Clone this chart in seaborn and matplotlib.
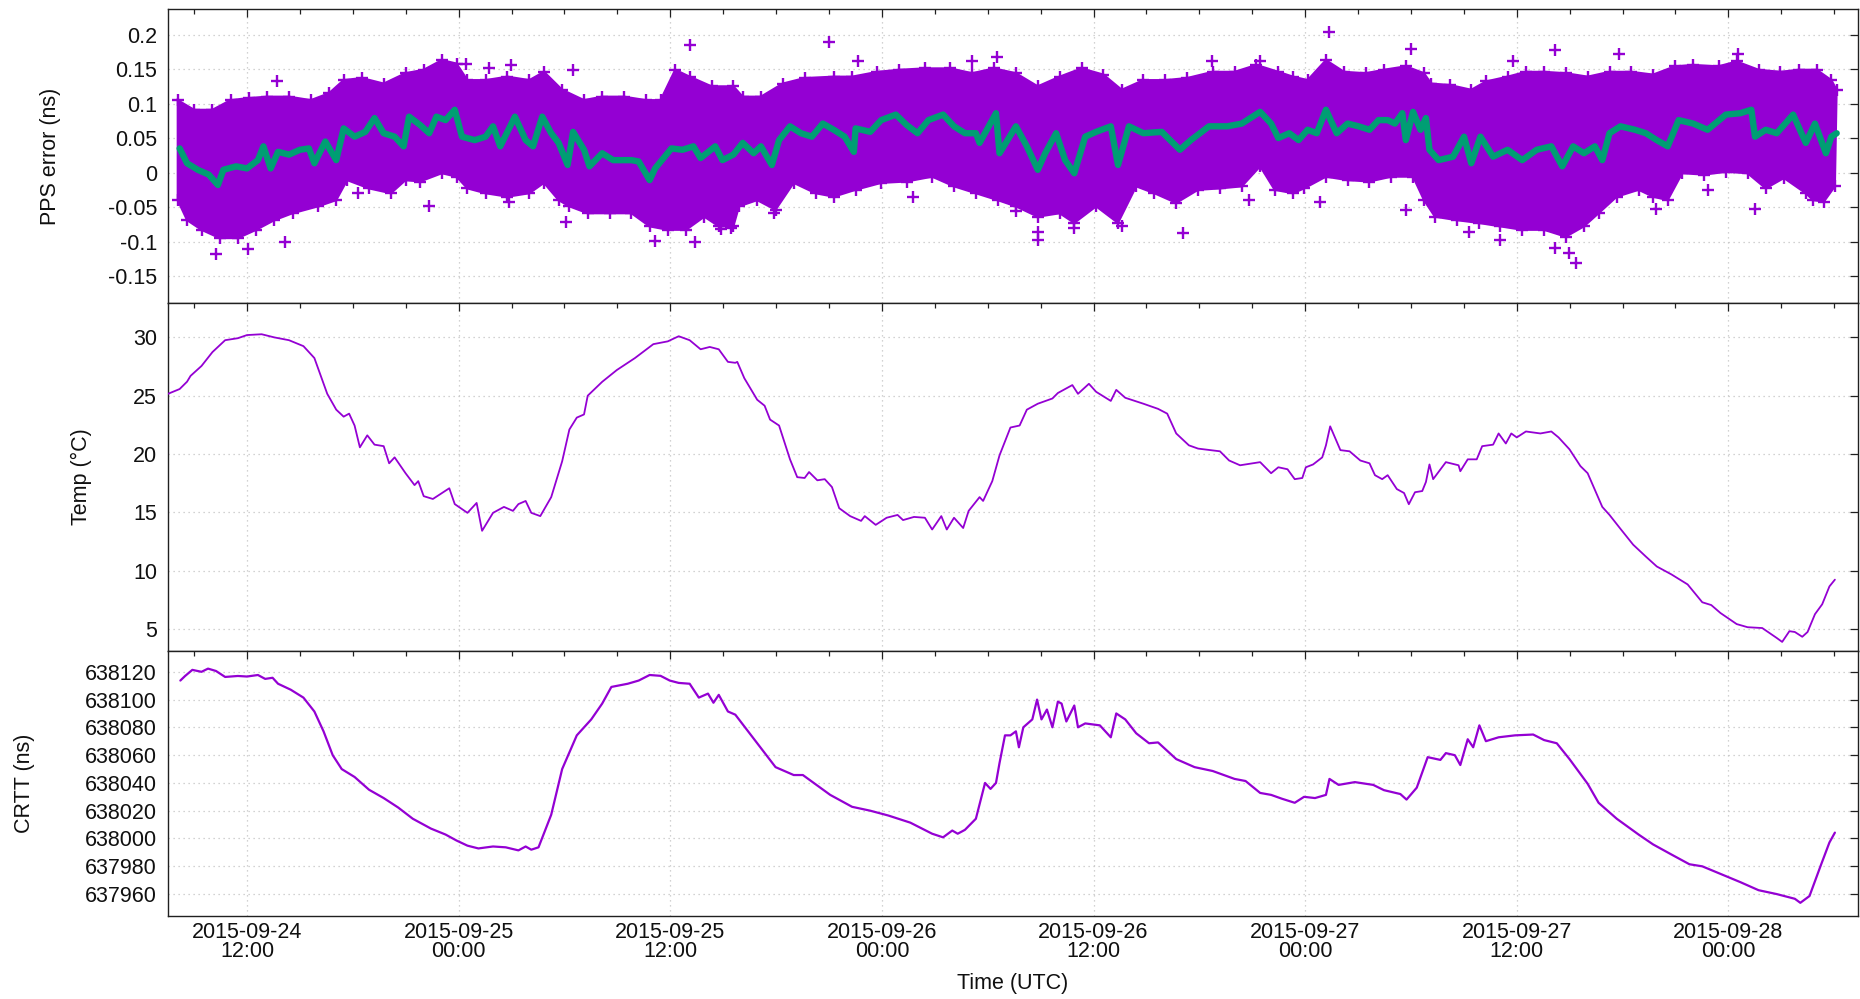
import numpy as np
import pandas as pd
import matplotlib
matplotlib.use("Agg")
import matplotlib.pyplot as plt
import matplotlib.dates as mdates
from matplotlib.ticker import FixedLocator, FuncFormatter, NullLocator
import seaborn as sns

# ---------------- data (hours since 2015-09-24 00:00 UTC) ----------------
T0 = pd.Timestamp("2015-09-24 00:00")

# PPS error: running mean (green)
pps_mean_h = [8.18, 8.6, 9.21, 9.83, 10.35, 10.66, 11.38, 12.0, 12.62, 12.93, 13.34, 13.76, 14.38, 15.0,
              15.51, 15.82, 16.44, 17.06, 17.48, 18.1, 18.71, 19.23, 19.75, 20.37, 20.88, 21.19, 21.81,
              22.33, 22.74, 23.26, 23.78, 24.19, 24.91, 25.53, 25.95, 26.36, 27.19, 27.8, 28.22, 28.74,
              29.25, 29.67, 30.18, 30.49, 31.11, 31.42, 32.14, 32.76, 33.8, 34.21, 34.83, 35.14, 36.07,
              36.69, 37.31, 37.72, 38.55, 38.96, 39.58,
              40.11, 40.73, 41.14, 41.76, 42.17, 42.79, 43.41, 44.03, 44.65, 45.27, 45.89, 46.41, 46.51,
              47.34, 47.96, 48.79, 49.4, 50.02, 50.64, 51.47, 52.09, 52.71, 53.33, 53.54, 54.47, 54.67,
              55.6, 56.22, 56.84, 57.26, 57.88, 58.39, 58.91, 59.53, 60.15, 60.98, 61.39, 62.01, 62.83,
              63.87, 64.9, 65.52, 66.55, 67.59, 68.41, 69.45, 70.07, 70.48, 71.1,
              71.63, 72.14, 72.66, 73.18, 73.79, 74.41, 75.03, 75.65, 76.16, 76.68, 77.09, 77.51, 77.71,
              78.12, 78.54, 78.85, 79.05, 79.57, 80.39, 81.01, 81.42, 81.94, 82.66, 83.48, 84.31, 85.13,
              85.96, 86.58, 87.2, 87.81, 88.43, 88.85, 89.26, 89.88, 90.7, 91.32, 91.94, 92.56, 93.18,
              94.0, 94.82, 95.86, 96.68, 97.3, 97.51, 98.12, 98.74, 99.67, 100.39, 100.91, 101.53,
              101.84, 102.14]
pps_mean_ns = [0.035, 0.0135, 0.004, -0.003, -0.018, 0.004, 0.009, 0.006, 0.018, 0.038, 0.006, 0.030,
               0.026, 0.033, 0.035, 0.0135, 0.045, 0.018, 0.064, 0.052, 0.059, 0.079, 0.057, 0.052,
               0.038, 0.081, 0.069, 0.057, 0.081, 0.076, 0.091, 0.052, 0.047, 0.052, 0.067, 0.038,
               0.081, 0.047, 0.038, 0.081, 0.057, 0.043, 0.011, 0.059, 0.033, 0.009, 0.028, 0.018,
               0.018, 0.016, -0.011, 0.006, 0.035, 0.033, 0.038, 0.021, 0.038, 0.018, 0.026,
               0.043, 0.028, 0.038, 0.011, 0.047, 0.067, 0.057, 0.052, 0.071, 0.062, 0.052, 0.030,
               0.064, 0.059, 0.076, 0.084, 0.069, 0.057, 0.076, 0.084, 0.067, 0.057, 0.057, 0.043,
               0.086, 0.028, 0.067, 0.038, 0.004, 0.028, 0.057, 0.018, -0.001, 0.052, 0.059, 0.067,
               0.011, 0.067, 0.057, 0.059, 0.033, 0.047, 0.067, 0.067, 0.071, 0.088, 0.071, 0.050,
               0.057,
               0.047, 0.062, 0.057, 0.091, 0.057, 0.071, 0.067, 0.062, 0.076, 0.076, 0.071, 0.086,
               0.047, 0.088, 0.062, 0.079, 0.033, 0.018, 0.023, 0.052, 0.0135, 0.052, 0.023, 0.033,
               0.018, 0.033, 0.038, 0.009, 0.038, 0.028, 0.038, 0.018, 0.057, 0.067, 0.062, 0.057,
               0.047, 0.038, 0.076, 0.071, 0.062, 0.084, 0.086, 0.091, 0.052, 0.062, 0.057, 0.084,
               0.043, 0.071, 0.028, 0.052, 0.057]

# PPS error: upper / lower edge of the dense point cloud
band_hi_h = [8.07, 9.0, 10.04, 11.07, 12.1, 13.14, 14.38, 15.62, 16.65, 17.48, 18.51, 19.75, 20.99,
             22.02, 23.05, 23.88, 24.5, 25.53, 26.77, 28.01, 28.84, 29.87, 31.11, 32.14, 33.38, 34.62,
             35.45, 36.28, 37.1, 38.34, 39.58, 40.11, 41.14, 42.38, 43.62, 45.27, 46.31, 47.75, 48.99,
             50.44, 51.88, 53.12, 54.36, 55.6, 56.84, 58.08, 59.32, 60.56, 61.6, 62.83, 64.07, 65.31,
             66.76, 68.0, 69.24, 70.48, 71.31, 72.14, 73.18, 74.21, 75.44, 76.47, 77.71, 78.74, 79.15,
             80.19, 81.42, 82.25, 83.48, 84.52, 85.55, 86.78, 88.02, 89.26, 90.49, 91.73, 92.97, 94.0,
             95.44, 96.47, 97.71, 98.95, 99.98, 101.01, 101.84, 102.14]
band_hi_ns = [0.105, 0.091, 0.091, 0.105, 0.108, 0.110, 0.110, 0.105, 0.115, 0.134, 0.137, 0.129,
              0.144, 0.149, 0.163, 0.158, 0.134, 0.134, 0.139, 0.134, 0.146, 0.120, 0.105, 0.110,
              0.110, 0.105, 0.105, 0.149, 0.139, 0.125, 0.125, 0.110, 0.110, 0.129, 0.137, 0.139,
              0.139, 0.146, 0.149, 0.151, 0.151, 0.144, 0.151, 0.144, 0.125, 0.139, 0.151, 0.142,
              0.120, 0.134, 0.134, 0.137, 0.146, 0.146, 0.156, 0.146, 0.139, 0.134, 0.163, 0.146,
              0.144, 0.149, 0.154, 0.144, 0.129, 0.127, 0.120, 0.132, 0.139, 0.146, 0.146, 0.144,
              0.139, 0.146, 0.146, 0.142, 0.154, 0.156, 0.154, 0.161, 0.149, 0.146, 0.149, 0.149,
              0.134, 0.120]
band_lo_h = [8.07, 8.6, 9.42, 10.45, 11.48, 12.52, 13.55, 14.58, 16.03, 17.06, 17.68, 18.92, 20.16,
             20.99, 21.81, 23.05, 23.88, 24.5, 25.53, 26.77, 28.01, 28.84, 29.67, 30.28, 31.32, 32.56,
             33.8, 34.83, 35.86, 36.9, 37.93, 38.76, 39.58, 39.9, 40.93, 41.97, 43.0, 44.24, 45.27,
             46.51, 47.96, 49.4, 50.85, 52.09, 53.33, 54.57, 55.6, 56.84, 58.08, 58.91, 60.15, 61.39,
             62.42, 63.45, 64.69, 65.93, 67.17, 68.41, 69.45, 70.27, 71.31, 71.94, 73.18, 74.41,
             75.65, 76.89, 78.12, 78.74, 79.36, 80.6, 81.84, 83.07, 84.31, 85.55, 86.78, 87.81,
             88.64, 89.67, 90.91, 91.73, 92.56, 93.38, 94.62, 95.86, 97.09, 98.12, 99.15, 100.39,
             100.8, 101.42, 102.04]
band_lo_ns = [-0.040, -0.069, -0.083, -0.095, -0.095, -0.083, -0.069, -0.059, -0.049, -0.040, -0.011,
              -0.023, -0.030, -0.011, -0.013, -0.001, -0.006, -0.023, -0.030, -0.035, -0.030, -0.015,
              -0.040, -0.049, -0.059, -0.059, -0.059, -0.078, -0.083, -0.083, -0.064, -0.078, -0.078,
              -0.049, -0.040, -0.054, -0.015, -0.030, -0.035, -0.025, -0.015, -0.013, -0.006, -0.020,
              -0.030, -0.040, -0.049, -0.064, -0.059, -0.073, -0.049, -0.073, -0.020, -0.030, -0.044,
              -0.025, -0.023, -0.020, 0.009, -0.025, -0.030, -0.023, -0.006, -0.011, -0.013, -0.006,
              -0.006, -0.040, -0.064, -0.069, -0.073, -0.078, -0.083, -0.083, -0.093, -0.078, -0.059,
              -0.035, -0.025, -0.035, -0.040, -0.001, -0.003, 0.001, -0.001, -0.023, -0.008, -0.030,
              -0.040, -0.042, -0.020]

# PPS error: isolated points outside the cloud
out_h = [10.24, 12.06, 13.71, 14.17, 18.3, 22.33, 24.4, 25.74, 26.88, 26.98, 30.08, 30.49, 35.14,
         37.1, 37.41, 38.86, 39.45, 41.86, 45.0, 46.62, 49.78, 53.12, 54.53, 55.6, 56.88, 56.88,
         58.87, 61.6, 65.07, 66.72, 68.83, 69.45, 72.82, 73.38, 77.71, 78.02, 81.32, 83.07, 83.79,
         86.16, 86.16, 86.99, 87.36, 89.77, 91.88, 94.82, 96.52, 97.51]
out_ns = [-0.118, -0.111, 0.132, -0.101, -0.030, -0.049, 0.158, 0.151, -0.042, 0.156, -0.072, 0.148,
          -0.099, 0.185, -0.100, -0.082, -0.081, -0.059, 0.189, 0.162, -0.035, 0.161, 0.167, -0.055,
          -0.086, -0.097, -0.081, -0.078, -0.087, 0.162, -0.040, 0.161, -0.043, 0.204, -0.054, 0.179,
          -0.086, -0.097, 0.161, 0.178, -0.110, -0.117, -0.131, 0.172, -0.053, -0.025, 0.172, -0.053]

# Temperature
temp_h = [7.52, 8.18, 8.6, 8.8, 9.42, 10.04, 10.76, 11.48, 12.0, 12.83, 13.55, 14.38, 15.2, 15.82,
          16.55, 17.06, 17.48, 17.79, 18.1, 18.4, 18.82, 19.23, 19.75, 20.06, 20.37, 20.99, 21.5,
          21.71, 22.02, 22.54, 23.05, 23.47, 23.78, 24.5, 25.02, 25.33, 25.95, 26.57, 27.08, 27.39,
          27.8, 28.12, 28.63, 29.25, 29.87, 30.28, 30.7, 31.11, 31.32, 32.14, 32.97, 34.0, 35.04,
          35.86, 36.48, 37.1, 37.72, 38.24, 38.75, 39.27, 39.69, 39.8, 40.2, 40.93, 41.35, 41.66,
          42.17, 42.79, 43.2, 43.62, 43.87, 44.34, 44.76, 45.17, 45.58, 46.2, 46.82, 47.03, 47.65,
          48.27, 48.89, 49.2, 49.82, 50.44, 50.85, 51.37, 51.68, 52.09, 52.61, 52.92, 53.54, 53.74,
          54.26, 54.67, 55.29, 55.81, 56.22, 56.84, 57.67, 57.98, 58.8, 59.12, 59.74, 60.15, 60.98,
          61.29, 61.8, 62.83, 63.66, 64.18, 64.69, 65.41, 65.93, 67.17, 67.69, 68.31, 69.45, 70.07,
          70.48, 71.0, 71.41, 71.84, 72.04, 72.45, 72.97, 73.18, 73.42, 73.69, 74.0, 74.52, 75.13,
          75.65, 75.96, 76.37, 76.68, 77.2, 77.61, 77.88, 78.23, 78.64, 78.85, 79.05, 79.26, 79.98,
          80.7, 80.8, 81.22, 81.73, 82.04, 82.66, 82.97, 83.38, 83.69, 84.0, 84.52, 85.34, 85.96,
          86.37, 86.99, 87.61, 88.02, 88.85, 89.26, 89.88, 90.6, 91.32, 91.94, 92.77, 93.69, 94.52,
          95.03, 95.55, 96.47, 97.09, 97.92, 98.74, 99.05, 99.46, 99.77, 100.19, 100.49, 100.91,
          101.32, 101.73, 102.04]
temp_c = [25.16, 25.57, 26.2, 26.7, 27.55, 28.74, 29.76, 29.93, 30.2, 30.27, 30.0, 29.76, 29.25, 28.23,
          25.16, 23.8, 23.2, 23.46, 22.44, 20.57, 21.6, 20.8, 20.67, 19.2, 19.71, 18.35, 17.33, 17.67,
          16.38, 16.14, 16.65, 17.06, 15.7, 14.95, 15.8, 13.41, 14.95, 15.46, 15.12, 15.7, 15.97,
          14.95, 14.67, 16.3, 19.37, 22.1, 23.12, 23.39, 25.0, 26.19, 27.2, 28.23, 29.42, 29.66,
          30.1, 29.76, 28.98, 29.18, 28.98, 27.9, 27.82, 27.9, 26.5, 24.65, 24.14, 22.95, 22.44,
          19.54, 18.01, 17.94, 18.45, 17.74, 17.84, 17.16, 15.35, 14.67, 14.26, 14.67, 13.92, 14.53,
          14.77, 14.33, 14.6, 14.53, 13.52, 14.67, 13.52, 14.53, 13.65, 15.12, 16.3, 15.97, 17.67,
          19.88, 22.27, 22.44, 23.8, 24.31, 24.76, 25.23, 25.91, 25.16, 26.02, 25.33, 24.55, 25.5,
          24.82, 24.31, 23.87, 23.46, 21.76, 20.74, 20.46, 20.23, 19.44, 19.03, 19.3, 18.35, 18.86,
          18.69, 17.84, 17.94, 18.86, 19.1, 19.71, 20.74, 22.37, 21.42, 20.33, 20.23, 19.44, 19.2,
          18.18, 17.84, 18.18, 16.99, 16.65, 15.69, 16.72, 16.82, 17.6, 19.1, 17.84, 19.3, 19.03,
          18.52, 19.54, 19.54, 20.67, 20.8, 21.76, 20.9, 21.76, 21.42, 21.93, 21.76, 21.93, 21.42,
          20.4, 18.96, 18.35, 15.46, 14.77, 13.58, 12.22, 11.2, 10.35, 9.67, 8.81, 7.28, 7.04, 6.36,
          5.41, 5.14, 5.07, 4.22, 3.88, 4.8, 4.73, 4.32, 4.73, 6.26, 7.11, 8.64, 9.22]

# CRTT
crtt_h = [8.22, 8.49, 8.9, 9.42, 9.79, 10.24, 10.76, 11.48, 12.0, 12.62, 13.03, 13.45, 13.76, 14.48,
          15.2, 15.82, 16.34, 16.86, 17.37, 18.1, 18.92, 19.75, 20.57, 21.4, 22.43, 23.26, 23.88,
          24.5, 25.12, 25.95, 26.67, 27.39, 27.8, 28.12, 28.53, 29.25, 29.87, 30.7, 31.52, 32.14,
          32.66, 33.59, 34.21, 34.83, 35.45, 35.97, 36.48, 37.1, 37.62, 38.14, 38.45, 38.75, 39.27,
          39.69, 40.93, 41.97, 43.0, 43.52, 45.07, 46.31, 47.34, 48.37, 49.61, 50.85, 51.47, 51.99,
          52.3, 52.71, 53.33, 53.85, 54.16, 54.47, 54.67, 54.98, 55.29, 55.6, 55.77, 56.02, 56.53,
          56.8, 57.05, 57.36, 57.67, 57.98, 58.19, 58.46, 58.91, 59.12, 59.53, 60.36, 60.98, 61.29,
          61.8, 62.42, 63.15, 63.66, 64.69, 65.73, 66.76, 68.0, 68.62, 69.45, 70.07, 70.69, 71.41,
          71.94, 72.56, 73.18, 73.38, 73.9, 74.82, 75.86, 76.47, 77.4, 77.75, 78.33, 78.95, 79.67,
          79.98, 80.49, 80.8, 81.22, 81.53, 81.88, 82.25, 82.97, 83.9, 84.93, 85.55, 86.27, 86.99,
          88.02, 88.64, 89.67, 90.91, 91.73, 92.76, 93.79, 94.52, 95.34, 96.68, 97.71, 98.74, 99.77,
          100.08, 100.6, 101.22, 101.73, 102.04]
crtt_ns = [638113.7, 638117.0, 638121.4, 638120.0, 638122.3, 638120.6, 638116.3, 638117.0, 638116.6,
           638117.7, 638114.9, 638115.7, 638111.4, 638107.1, 638101.4, 638091.4, 638077.1, 638059.9,
           638049.9, 638044.2, 638035.0, 638029.0, 638022.2, 638014.1, 638007.0, 638002.7, 637998.4,
           637994.7, 637992.7, 637994.1, 637993.5, 637991.3, 637994.1, 637991.8, 637993.5, 638017.0,
           638049.9, 638074.2, 638085.7, 638097.1, 638109.1, 638111.4, 638113.7, 638117.7, 638117.1,
           638113.7, 638112.0, 638111.4, 638101.4, 638104.3, 638097.7, 638103.4, 638091.4, 638089.1,
           638068.5, 638051.3, 638045.6, 638045.6, 638031.3, 638022.7, 638019.9, 638016.4, 638011.3,
           638003.3, 638000.7, 638005.6, 638003.3, 638006.1, 638014.1, 638039.9, 638035.6, 638039.9,
           638054.2, 638074.2, 638074.2, 638077.1, 638065.6, 638080.0, 638085.7, 638100.0, 638085.7,
           638092.8, 638080.0, 638098.5, 638097.1, 638084.2, 638095.7, 638080.0, 638082.8, 638081.4,
           638072.8, 638090.0, 638085.7, 638075.7, 638068.5, 638069.1, 638057.1, 638051.3, 638048.5,
           638042.8, 638041.3, 638032.7, 638031.3, 638028.5, 638025.6, 638029.9, 638029.0, 638031.3,
           638042.8, 638038.5, 638040.5, 638038.5, 638034.7, 638031.9, 638027.9, 638036.5, 638058.5,
           638056.5, 638061.4, 638059.9, 638052.8, 638071.4, 638065.6, 638081.4, 638070.0, 638072.8,
           638074.2, 638074.8, 638070.8, 638068.5, 638057.1, 638039.3, 638025.6, 638014.1, 638002.7,
           637995.6, 637988.4, 637981.3, 637979.8, 637975.5, 637968.4, 637962.6, 637959.8, 637956.4,
           637953.5, 637958.4, 637979.8, 637997.0, 638004.1]

pps_ticks = [-0.15, -0.1, -0.05, 0, 0.05, 0.1, 0.15, 0.2]
temp_ticks = [5, 10, 15, 20, 25, 30]
crtt_ticks = [637960, 637980, 638000, 638020, 638040, 638060, 638080, 638100, 638120]
ylabels = ["PPS error (ns)", "Temp (\u00b0C)", "CRTT (ns)"]
xlabel = "Time (UTC)"


def to_time(h):
    return T0 + pd.to_timedelta(np.asarray(h, dtype=float), unit="h")


# ---------------- style ----------------
PURPLE = "#9400D3"
GREEN = "#009E73"
TEXT = "#101010"

sns.set_style("white")
plt.rcParams["font.family"] = ["Liberation Sans", "DejaVu Sans"]
plt.rcParams["font.size"] = 15.5
plt.rcParams["axes.unicode_minus"] = False
plt.rcParams["text.color"] = TEXT
plt.rcParams["axes.labelcolor"] = TEXT
plt.rcParams["xtick.color"] = TEXT
plt.rcParams["ytick.color"] = TEXT

fig = plt.figure(figsize=(18.6, 9.99), dpi=100)
W, H = 1860.0, 999.0
left, right = 168, 1858
panels = [(9, 303), (303, 651), (651, 916)]
axes = []
for top, bot in panels:
    ax = fig.add_axes([left / W, 1 - bot / H, (right - left) / W, (bot - top) / H])
    axes.append(ax)
ax1, ax2, ax3 = axes

# ---------------- panel 1: PPS error ----------------
band_x = np.concatenate([to_time(band_hi_h).values, to_time(band_lo_h[::-1]).values])
band_y = np.concatenate([np.asarray(band_hi_ns), np.asarray(band_lo_ns[::-1])])
ax1.fill(band_x, band_y, color=PURPLE, linewidth=1.5, edgecolor=PURPLE, zorder=2)
sns.scatterplot(x=to_time(band_hi_h), y=band_hi_ns, ax=ax1, color=PURPLE, marker="+",
                s=75, linewidth=1.7, zorder=3, legend=False)
sns.scatterplot(x=to_time(band_lo_h), y=band_lo_ns, ax=ax1, color=PURPLE, marker="+",
                s=75, linewidth=1.7, zorder=3, legend=False)
sns.scatterplot(x=to_time(out_h), y=out_ns, ax=ax1, color=PURPLE, marker="+",
                s=75, linewidth=1.7, zorder=3, legend=False)
sns.lineplot(x=to_time(pps_mean_h), y=pps_mean_ns, ax=ax1, color=GREEN, linewidth=4.6,
             estimator=None, sort=False, zorder=4)
ax1.set_ylim(-0.189, 0.237)
ax1.yaxis.set_major_locator(FixedLocator(pps_ticks))
ax1.yaxis.set_major_formatter(FuncFormatter(lambda v, p: "%g" % round(v, 3)))

# ---------------- panel 2: temperature ----------------
sns.lineplot(x=to_time(temp_h), y=temp_c, ax=ax2, color=PURPLE, linewidth=1.3,
             estimator=None, sort=False, zorder=3)
ax2.set_ylim(3.1, 32.95)
ax2.yaxis.set_major_locator(FixedLocator(temp_ticks))
ax2.yaxis.set_major_formatter(FuncFormatter(lambda v, p: "%d" % v))

# ---------------- panel 3: CRTT ----------------
sns.lineplot(x=to_time(crtt_h), y=crtt_ns, ax=ax3, color=PURPLE, linewidth=1.6,
             estimator=None, sort=False, zorder=3)
ax3.set_ylim(637944, 638135)
ax3.yaxis.set_major_locator(FixedLocator(crtt_ticks))
ax3.yaxis.set_major_formatter(FuncFormatter(lambda v, p: "%d" % round(v)))

# ---------------- common axis styling ----------------
xmin, xmax = to_time([7.52, 103.35])
label_x = [-0.0698, -0.0515, -0.0852]
for i, ax in enumerate(axes):
    ax.set_xlim(xmin, xmax)
    ax.xaxis.set_major_locator(mdates.HourLocator(byhour=[0, 12]))
    ax.xaxis.set_minor_locator(mdates.HourLocator(byhour=range(0, 24, 3)))
    ax.xaxis.set_major_formatter(mdates.DateFormatter("%Y-%m-%d\n%H:%M"))
    ax.yaxis.set_minor_locator(NullLocator())
    ax.tick_params(axis="both", which="both", direction="in", top=True, right=True,
                   width=0.9, color="#202020")
    ax.tick_params(which="major", length=6.0)
    ax.tick_params(which="minor", length=3.5)
    ax.tick_params(axis="y", pad=8)
    ax.grid(True, which="major", color="#c4c4c4", linestyle=(0, (1, 3)), linewidth=0.9)
    ax.set_axisbelow(True)
    for sp in ax.spines.values():
        sp.set_linewidth(1.0)
        sp.set_color("#202020")
    ax.set_xlabel("")
    ax.set_ylabel(ylabels[i], va="center")
    ax.yaxis.set_label_coords(label_x[i], 0.5)
    if i < 2:
        ax.tick_params(axis="x", labelbottom=False)

for lab in ax3.get_xticklabels():
    lab.set_linespacing(0.9)
    lab.set_multialignment("center")
ax3.tick_params(axis="x", pad=4)
ax3.set_xlabel(xlabel, va="center")
ax3.xaxis.set_label_coords(0.5, -67 / 265)

fig.savefig("out.png", dpi=100)
